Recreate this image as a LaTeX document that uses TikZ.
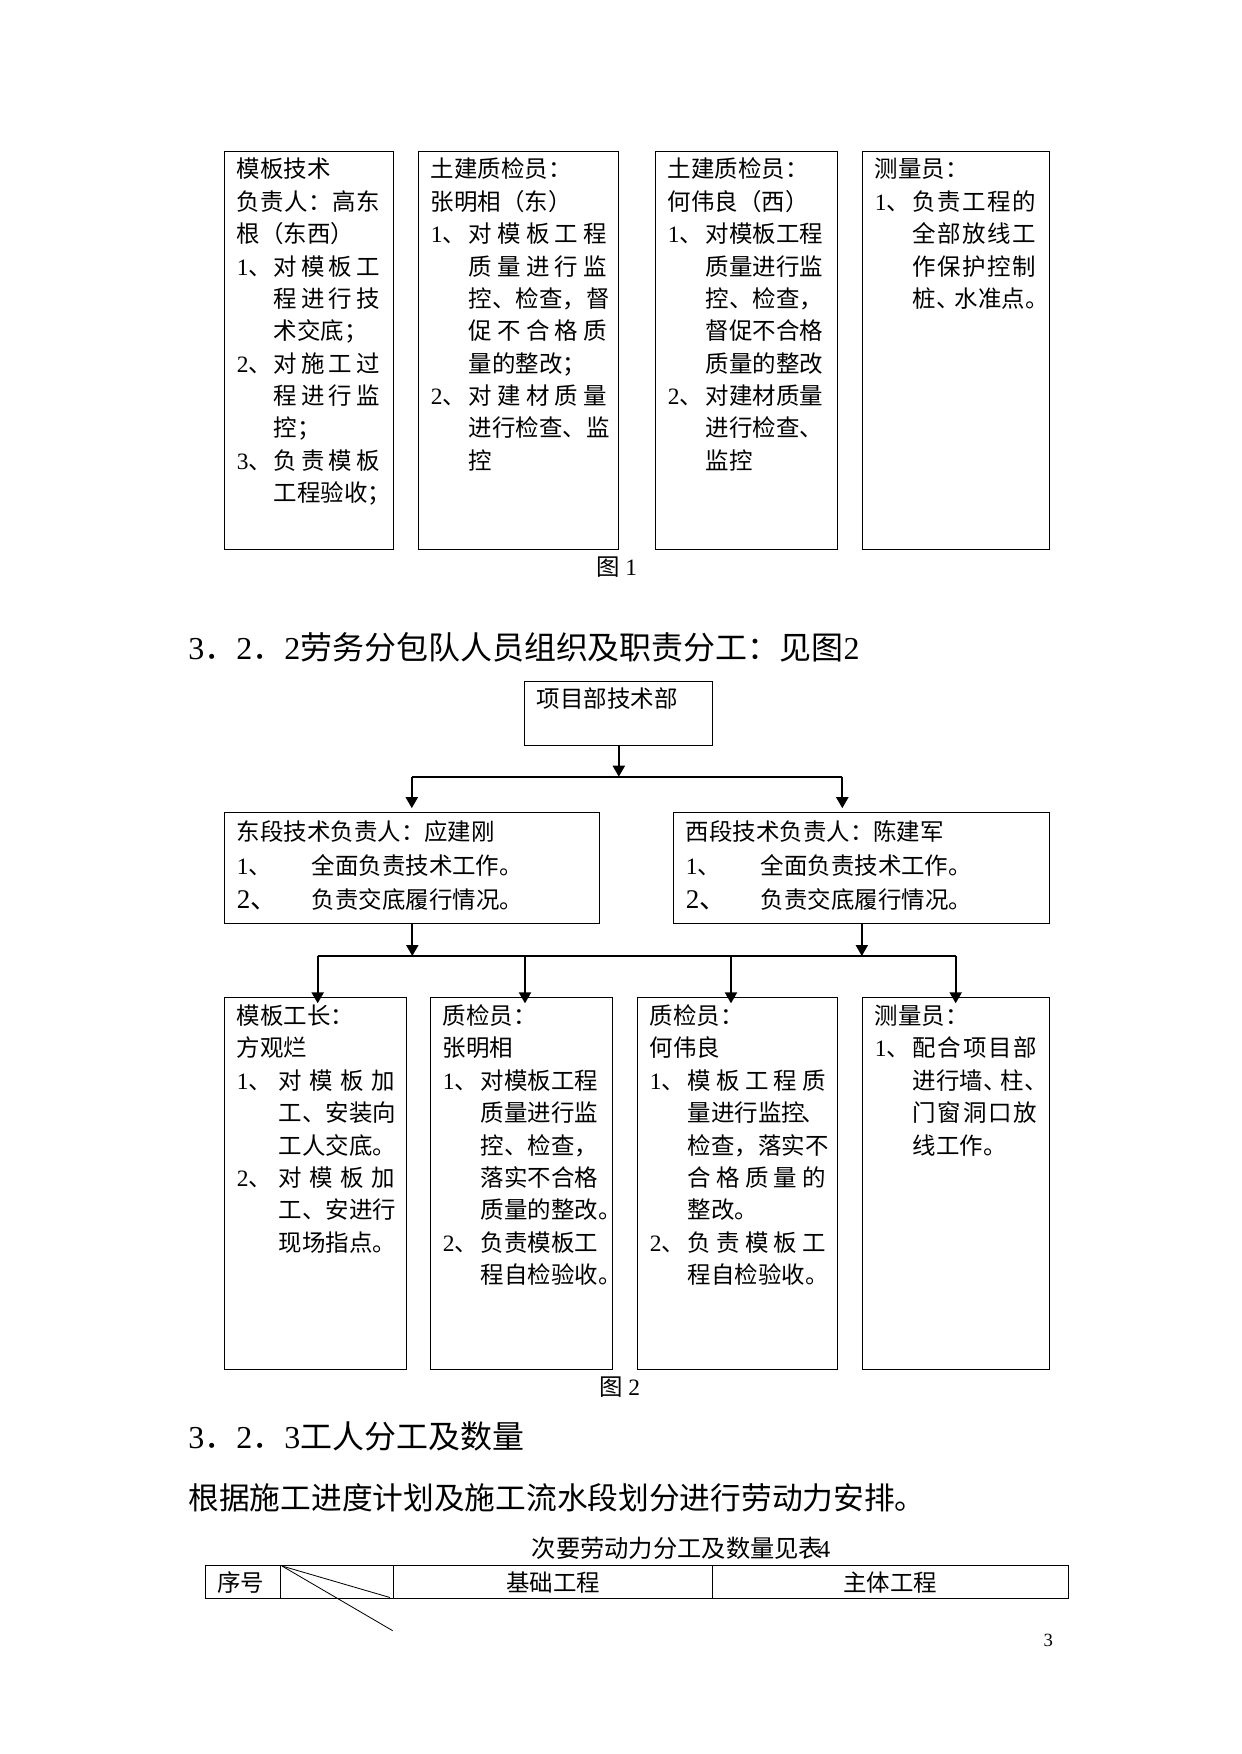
\documentclass[tikz,border=0pt]{standalone}
\usepackage{fontspec}
\setmainfont{Liberation Serif}
\newfontfamily\cjk{Noto Sans CJK SC}
\usetikzlibrary{arrows.meta}

\newdimen\pxu \pxu=0.48178pt
\newcommand\dg[1]{{\rmfamily #1}}
\newcommand\lab[2][38]{\makebox[#1\pxu][l]{\dg{#2}、}}
\newcommand\bignum[1]{\makebox[75\pxu][l]{\fontsize{13}{16}\selectfont\dg{#1}、}}
\newcommand\ind[1][38]{\hspace*{#1\pxu}}
\def\spreadi#1{#1\spreadii}
\def\spreadii#1{\ifx\relax#1\else\hfil#1\expandafter\spreadii\fi}
\newcommand\fillw[2]{\makebox[#1\pxu][s]{\spreadi#2\relax}}
\newcommand\boxtxt[4]{\parbox[t][#2\pxu][t]{#1\pxu}{\fontsize{11.3}{#3}\selectfont\strut#4}}

\begin{document}
\begin{tikzpicture}[x=0.48178pt, y=-0.48178pt,
	every node/.style={font=\cjk, inner sep=0pt},
	box/.style={draw, line width=0.5pt, anchor=north west, inner xsep=5.78pt, inner ysep=1.93pt},
	head/.style={anchor=west, font=\cjk\fontsize{15.4}{18}\selectfont},
	captxt/.style={font=\cjk\fontsize{11.3}{13}\selectfont},
	arr/.style={line width=1pt, -{Triangle[length=5.3pt, width=5.8pt]}}]
				\useasboundingbox (0,0) rectangle (1241,1754);
				
				% Figure 1: duty boxes
				\node[box] (tech) at (224.3,150.7) {\boxtxt{145}{390.3}{15.6pt}{%
					模板技术\\
					\fillw{143}{负责人：高东}\\
					根（东西）\\
					\lab[37]{1}\fillw{106}{对模板工}\\
					\ind[37]\fillw{106}{程进行技}\\
					\ind[37]术交底；\\
					\lab[37]{2}\fillw{106}{对施工过}\\
					\ind[37]\fillw{106}{程进行监}\\
					\ind[37]控；\\
					\lab[37]{3}\fillw{106}{负责模板}\\
					\ind[37]工程验收；}};
				\node[box] (qce) at (418.3,150.7) {\boxtxt{176}{390.3}{15.6pt}{%
					土建质检员：\\
					张明相（东）\\
					\lab{1}\fillw{138}{对模板工程}\\
					\ind\fillw{138}{质量进行监}\\
					\ind\fillw{138}{控、检查，督}\\
					\ind\fillw{138}{促不合格质}\\
					\ind 量的整改；\\
					\lab{2}\fillw{138}{对建材质量}\\
					\ind\fillw{138}{进行检查、监}\\
					\ind 控}};
				\node[box] (qcw) at (655.3,150.7) {\boxtxt{158}{390.3}{15.6pt}{%
					土建质检员：\\
					何伟良（西）\\
					\lab{1}对模板工程\\
					\ind 质量进行监\\
					\ind 控、检查，\\
					\ind 督促不合格\\
					\ind 质量的整改\\
					\lab{2}对建材质量\\
					\ind 进行检查、\\
					\ind 监控}};
				\node[box] (survey) at (862.3,150.7) {\boxtxt{163}{390.3}{15.6pt}{%
					测量员：\\
					\lab{1}\fillw{123}{负责工程的}\\
					\ind\fillw{123}{全部放线工}\\
					\ind\fillw{123}{作保护控制}\\
					\ind 桩、\kern-5\pxu 水准点。}};
				\node[captxt] (fig1) at (617,567) {图 \dg{1}};
				
				% Heading 3.2.2
				\node[head] (h322) at (188,647.7) {\dg{3}．\dg{2}．\dg{2}劳务分包队人员组织及职责分工：见图\dg{2}};
				
				% Figure 2: top and section heads
				\node[box] (pm) at (524.3,680.7) {\boxtxt{164}{56.6}{15.6pt}{项目部技术部}};
				\node[box] (east) at (224.3,811.7) {\boxtxt{351}{103.6}{16.4pt}{%
					东段技术负责人：应建刚\\
					\lab[75]{1}全面负责技术工作。\\
					\bignum{2}负责交底履行情况。}};
				\node[box] (west) at (673.3,811.7) {\boxtxt{352}{103.6}{16.4pt}{%
					西段技术负责人：陈建军\\
					\lab[75]{1}全面负责技术工作。\\
					\bignum{2}负责交底履行情况。}};
				
				% Figure 2: site staff
				\node[box] (foreman) at (224.3,997.3) {\boxtxt{158}{363.7}{15.6pt}{%
					模板工长：\\
					方观烂\\
					\lab[42]{1}\fillw{116}{对模板加}\\
					\ind[42]\fillw{116}{工、安装向}\\
					\ind[42]工人交底。\\
					\lab[42]{2}\fillw{116}{对模板加}\\
					\ind[42]\fillw{116}{工、安进行}\\
					\ind[42]现场指点。}};
				\node[box] (inspe) at (430.3,997.3) {\boxtxt{158}{363.7}{15.6pt}{%
					质检员：\\
					张明相\\
					\lab{1}对模板工程\\
					\ind 质量进行监\\
					\ind 控、检查，\\
					\ind 落实不合格\\
					\ind 质量的整改。\\
					\lab{2}负责模板工\\
					\ind 程自检验收。}};
				\node[box] (inspw) at (637.3,997.3) {\boxtxt{176}{363.7}{15.6pt}{%
					质检员：\\
					何伟良\\
					\lab{1}\fillw{138}{模板工程质}\\
					\ind 量进行监控\kern-4\pxu 、\\
					\ind 检查，落实不\\
					\ind\fillw{138}{合格质量的}\\
					\ind 整改。\\
					\lab{2}\fillw{138}{负责模板工}\\
					\ind 程自检验收。}};
				\node[box] (setout) at (862.3,997.3) {\boxtxt{162.7}{363.7}{15.6pt}{%
					测量员：\\
					\lab{1}\fillw{124}{配合项目部}\\
					\ind 进行墙、\kern-6\pxu 柱、\\
					\ind\fillw{124}{门窗洞口放}\\
					\ind 线工作。}};
				\node[captxt] (fig2) at (620,1386.7) {图 \dg{2}};
				
				% Connectors
				\coordinate (busl) at (411.8,776.7);
				\coordinate (busr) at (842.3,776.7);
				\draw[line width=1pt] (busl) -- (busr);
				\draw[arr] (pm.south) -- (pm.south |- busl);
				\draw[arr, shorten >=1.7pt] (busl) -- (busl |- east.north);
				\draw[arr, shorten >=1.7pt] (busr) -- (busr |- west.north);
				
				\coordinate (k1) at (317.7,956);
				\coordinate (k2) at (525,956);
				\coordinate (k3) at (731,956);
				\coordinate (k4) at (955.7,956);
				\draw[line width=0.5pt] (k1) -- (k4);
				\draw[arr] (east.south) -- (east.south |- k1);
				\draw[arr] (west.south) -- (west.south |- k1);
				\foreach \k/\b in {k1/foreman,k2/inspe,k3/inspw,k4/setout}
				\draw[arr, shorten >=-2.9pt] (\k) -- (\k |- \b.north);
				
				% Heading 3.2.3 and text
				\node[head] (h323) at (188,1436.7) {\dg{3}．\dg{2}．\dg{3}工人分工及数量};
				\node[anchor=west, font=\cjk\fontsize{14.8}{18}\selectfont] (plan) at (188,1498) {根据施工进度计划及施工流水段划分进行劳动力安排。};
				
				% Table 4 head
				\node[font=\cjk\fontsize{11.7}{14}\selectfont] (tab4) at (681,1548) {次要劳动力分工及数量见表\kern-5\pxu\dg{4}};
				\draw[line width=0.7pt] (205.7,1565.7) rectangle (1068.3,1598.3);
				\foreach \x in {280.7,393.3,712.3}
				\draw[line width=0.6pt] (\x,1565.7) -- (\x,1598.3);
				\draw[line width=0.4pt] (282,1566) -- (390,1597.5);
				\draw[line width=0.4pt] (282,1566) -- (392.7,1630.7);
				\node[captxt, anchor=west] (seq) at (216.7,1582.7) {序号};
				\node[captxt] (found) at (553,1582.7) {基础工程};
				\node[captxt] (body) at (890,1582.7) {主体工程};
				
				% Page number
				\node[font=\rmfamily\fontsize{9}{11}\selectfont] (pgno) at (1048.3,1640.7) {3};
			\end{tikzpicture}
\end{document}
